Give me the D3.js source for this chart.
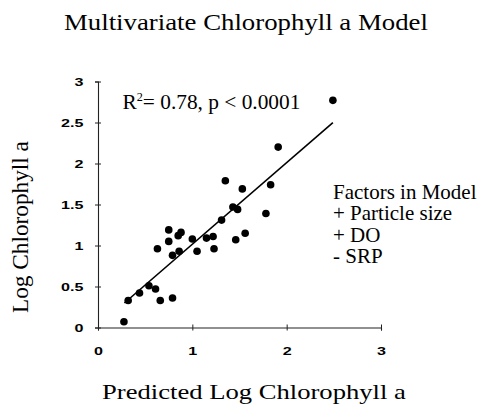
<!DOCTYPE html>
<html>
<head>
<meta charset="utf-8">
<script src="https://cdn.jsdelivr.net/npm/d3@7"></script>
<style>
  body { margin: 0; background: #fff; }
  svg { display: block; }
</style>
</head>
<body>
<div id="chart"></div>
<script>
// Data
const predicted = [0.275, 0.32, 0.44, 0.54, 0.61, 0.66, 0.79, 0.63, 0.75, 0.75,
  0.79, 0.86, 0.85, 0.88, 1.0, 1.05, 1.15, 1.22, 1.23, 1.31,
  1.43, 1.48, 1.46, 1.56, 1.53, 1.35, 1.78, 1.83, 1.91, 2.49];
const observed = [0.07, 0.33, 0.42, 0.51, 0.47, 0.33, 0.36, 0.96, 1.19, 1.05,
  0.88, 0.93, 1.12, 1.16, 1.08, 0.93, 1.09, 1.11, 0.96, 1.31,
  1.47, 1.44, 1.07, 1.15, 1.69, 1.79, 1.39, 1.74, 2.20, 2.77];
const fitRange = [0.28, 2.49];
const fitSlope = 0.995;
const fitIntercept = 0.02;
const xTicks = [0, 1, 2, 3];
const yTicks = [0, 0.5, 1, 1.5, 2, 2.5, 3];
const factorLines = ['Factors in Model', '+ Particle size', '+ DO', '- SRP'];

const width = 480, height = 407;
const margin = {left: 98, right: 99, top: 81.5, bottom: 79.5};

const svg = d3.select('#chart').append('svg')
  .attr('width', width)
  .attr('height', height);

const x = d3.scaleLinear().domain([0, 3]).range([margin.left, width - margin.right]);
const y = d3.scaleLinear().domain([0, 3]).range([height - margin.bottom, margin.top]);

const serif = '"Liberation Serif", "Times New Roman", serif';
const tickStretch = 1.4;

// axes
const xAxis = svg.append('g')
  .attr('transform', 'translate(0,' + y(0) + ')')
  .call(d3.axisBottom(x).tickValues(xTicks).tickFormat(d3.format('d')).tickSize(3).tickPadding(16));
const yAxis = svg.append('g')
  .attr('transform', 'translate(' + x(0) + ',0)')
  .call(d3.axisLeft(y).tickValues(yTicks).tickFormat(d => d).tickSize(3));

[xAxis, yAxis].forEach(a => {
  a.select('.domain').attr('stroke', '#222').attr('stroke-width', 1.1);
  a.selectAll('.tick line').attr('stroke', '#222');
  a.selectAll('text')
    .style('font-family', '"Liberation Sans", Arial, sans-serif')
    .style('font-weight', 'bold')
    .style('font-size', '11.5px')
    .attr('fill', '#000')
    .attr('transform', 'scale(' + tickStretch + ',1)');
});
yAxis.selectAll('text').attr('x', -14.5 / tickStretch);
// ticks cross the axis
xAxis.selectAll('.tick line').attr('y1', -3);
yAxis.selectAll('.tick line').attr('x1', 3);

// regression line
svg.append('line')
  .attr('x1', x(fitRange[0]))
  .attr('y1', y(fitIntercept + fitSlope * fitRange[0]))
  .attr('x2', x(fitRange[1]))
  .attr('y2', y(fitIntercept + fitSlope * fitRange[1]))
  .attr('stroke', '#000')
  .attr('stroke-width', 1.6);

// points
svg.selectAll('.pt')
  .data(predicted.map((p, i) => [p, observed[i]]))
  .enter()
  .append('circle')
  .attr('class', 'pt')
  .attr('cx', d => x(d[0]))
  .attr('cy', d => y(d[1]))
  .attr('r', 3.8)
  .attr('fill', '#000');

// place a text at (x0, y0), stretched horizontally by sx
function placeText(node, x0, y0, sx, rotate) {
  node.attr('transform', 'translate(' + x0 + ',' + y0 + ')' +
    (rotate ? ' rotate(' + rotate + ')' : '') +
    ' scale(' + sx + ',1)');
}
// stretch needed for a text to span w pixels
function stretchFor(node, w) {
  return w / node.node().getBBox().width;
}

function serifText(str, size) {
  return svg.append('text')
    .style('font-family', serif)
    .style('font-size', size + 'px')
    .attr('fill', '#000')
    .text(str);
}

// title
const title = serifText('Multivariate Chlorophyll a Model', 23);
placeText(title, 64, 29.5, stretchFor(title, 364));

// axis titles
const xTitle = serifText('Predicted Log Chlorophyll a', 21);
placeText(xTitle, 102, 398.5, stretchFor(xTitle, 305));
const yTitle = serifText('Log Chlorophyll a', 23);
placeText(yTitle, 27.5, 313, stretchFor(yTitle, 172), -90);

// R² annotation
const ann = svg.append('text')
  .style('font-family', serif)
  .style('font-size', '21px')
  .attr('fill', '#000');
ann.append('tspan').text('R');
ann.append('tspan').attr('dy', -8).style('font-size', '12px').text('2');
ann.append('tspan').attr('dy', 8).text('= 0.78, p < 0.0001');
placeText(ann, 122.5, 108.5, stretchFor(ann, 178));

// factors legend
const factorNodes = factorLines.map(d => serifText(d, 20));
const factorStretch = stretchFor(factorNodes[0], 144);
factorNodes.forEach((n, i) => placeText(n, 333, 198.5 + i * 21.6, factorStretch));
</script>
</body>
</html>
